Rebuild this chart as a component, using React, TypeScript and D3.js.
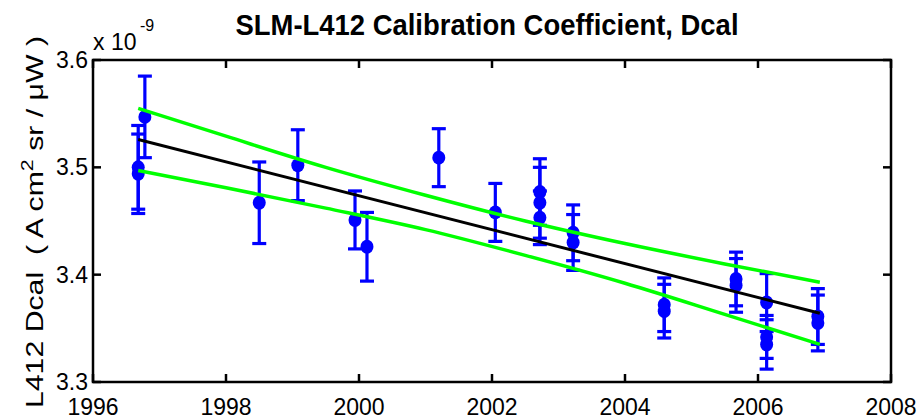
import React from "react";
import * as d3 from "d3";

// Calibration coefficient measurements (units of 1e-9 A cm^2 sr / µW)
const years = [
  1996.68, 1996.68, 1996.78, 1998.5, 1999.08, 1999.94, 2000.12, 2001.2, 2002.05,
  2002.72, 2002.72, 2002.72, 2003.22, 2003.22, 2004.59, 2004.59, 2005.67, 2005.67,
  2006.13, 2006.13, 2006.13, 2006.9, 2006.9,
];
const dcal = [
  3.5, 3.494, 3.547, 3.467, 3.502, 3.451, 3.426, 3.509, 3.458,
  3.477, 3.467, 3.453, 3.439, 3.43, 3.372, 3.366, 3.396, 3.39,
  3.374, 3.342, 3.335, 3.361, 3.355,
];
const dcalErr = [
  0.039, 0.037, 0.038, 0.038, 0.033, 0.027, 0.032, 0.027, 0.027,
  0.031, 0.033, 0.025, 0.026, 0.026, 0.025, 0.025, 0.025, 0.025,
  0.027, 0.02, 0.023, 0.026, 0.026,
];

// Linear fit and its confidence band
const fitYears = [1996.68, 2006.93];
const fitValues = [3.526, 3.364];
const bandYears = [1996.68, 1998, 1999.5, 2001, 2002.5, 2004, 2005.5, 2006.93];
const bandUpper = [3.555, 3.529, 3.5, 3.474, 3.45, 3.429, 3.41, 3.393];
const bandLower = [3.497, 3.481, 3.462, 3.442, 3.418, 3.392, 3.363, 3.335];

const xTicks = [1996, 1998, 2000, 2002, 2004, 2006, 2008];
const yTicks = [3.3, 3.4, 3.5, 3.6];

const W = 922;
const H = 420;
const left = 93;
const right = 891;
const top = 60;
const bottom = 382;
const font = "'Liberation Sans', Arial, Helvetica, sans-serif";

export default function App() {
  const x = d3.scaleLinear().domain([1996, 2008]).range([left, right]);
  const y = d3.scaleLinear().domain([3.3, 3.6]).range([bottom, top]);

  const line = d3
    .line<[number, number]>()
    .x((d) => x(d[0]))
    .y((d) => y(d[1]));
  const curve = d3
    .line<[number, number]>()
    .x((d) => x(d[0]))
    .y((d) => y(d[1]))
    .curve(d3.curveMonotoneX);

  const fitPts = fitYears.map((t, i) => [t, fitValues[i]] as [number, number]);
  const upPts = bandYears.map((t, i) => [t, bandUpper[i]] as [number, number]);
  const loPts = bandYears.map((t, i) => [t, bandLower[i]] as [number, number]);

  const capHalf = 7;
  const tickLen = 8;
  const blue = "#0000ff";

  return (
    <svg
      width={W}
      height={H}
      style={{ position: "absolute", left: 0, top: 0, background: "#fff" }}
    >
      <rect x={0} y={0} width={W} height={H} fill="#fff" />

      {/* error bars */}
      <g stroke={blue} strokeWidth={3.2} fill="none">
        {years.map((t, i) => {
          const cx = x(t);
          const y1 = y(dcal[i] + dcalErr[i]);
          const y2 = y(dcal[i] - dcalErr[i]);
          return (
            <g key={i}>
              <line x1={cx} x2={cx} y1={y1} y2={y2} />
              <line x1={cx - capHalf} x2={cx + capHalf} y1={y1} y2={y1} />
              <line x1={cx - capHalf} x2={cx + capHalf} y1={y2} y2={y2} />
            </g>
          );
        })}
      </g>
      <g fill={blue}>
        {years.map((t, i) => (
          <ellipse key={i} cx={x(t)} cy={y(dcal[i])} rx={6.5} ry={7} />
        ))}
      </g>

      {/* fit and confidence band */}
      <path d={line(fitPts) || ""} stroke="#000" strokeWidth={3} fill="none" />
      <path d={curve(upPts) || ""} stroke="#00ff00" strokeWidth={3.5} fill="none" />
      <path d={curve(loPts) || ""} stroke="#00ff00" strokeWidth={3.5} fill="none" />

      {/* axes box and ticks */}
      <g stroke="#000" strokeWidth={2.5} fill="none">
        <rect x={left} y={top} width={right - left} height={bottom - top} />
        {xTicks.map((t) => (
          <g key={t}>
            <line x1={x(t)} x2={x(t)} y1={bottom} y2={bottom - tickLen} />
            <line x1={x(t)} x2={x(t)} y1={top} y2={top + tickLen} />
          </g>
        ))}
        {yTicks.map((v) => (
          <g key={v}>
            <line x1={left} x2={left + tickLen} y1={y(v)} y2={y(v)} />
            <line x1={right} x2={right - tickLen} y1={y(v)} y2={y(v)} />
          </g>
        ))}
      </g>

      <g fontFamily={font} fontSize={23} fill="#000">
        {xTicks.map((t) => (
          <text key={t} x={x(t)} y={415} textAnchor="middle">
            {t}
          </text>
        ))}
        {yTicks.map((v) => (
          <text key={v} x={88} y={y(v) + 8} textAnchor="end">
            {v.toFixed(1)}
          </text>
        ))}
        <text x={93} y={50}>
          x 10
        </text>
        <text x={140} y={31} fontSize={16}>
          -9
        </text>
      </g>

      <text
        x={487}
        y={35}
        fontFamily={font}
        fontWeight="bold"
        fontSize={30}
        textAnchor="middle"
        textLength={503}
        lengthAdjust="spacingAndGlyphs"
      >
        SLM-L412 Calibration Coefficient, Dcal
      </text>

      <text
        transform="translate(43,222) rotate(-90)"
        fontFamily={font}
        fontSize={24}
        textAnchor="middle"
        textLength={372}
        lengthAdjust="spacingAndGlyphs"
        style={{ whiteSpace: "pre" }}
      >
        {"L412 Dcal  ( A cm"}
        <tspan fontSize={17} dy={-10}>
          2
        </tspan>
        <tspan dy={10}>{" sr / μW )"}</tspan>
      </text>
    </svg>
  );
}
